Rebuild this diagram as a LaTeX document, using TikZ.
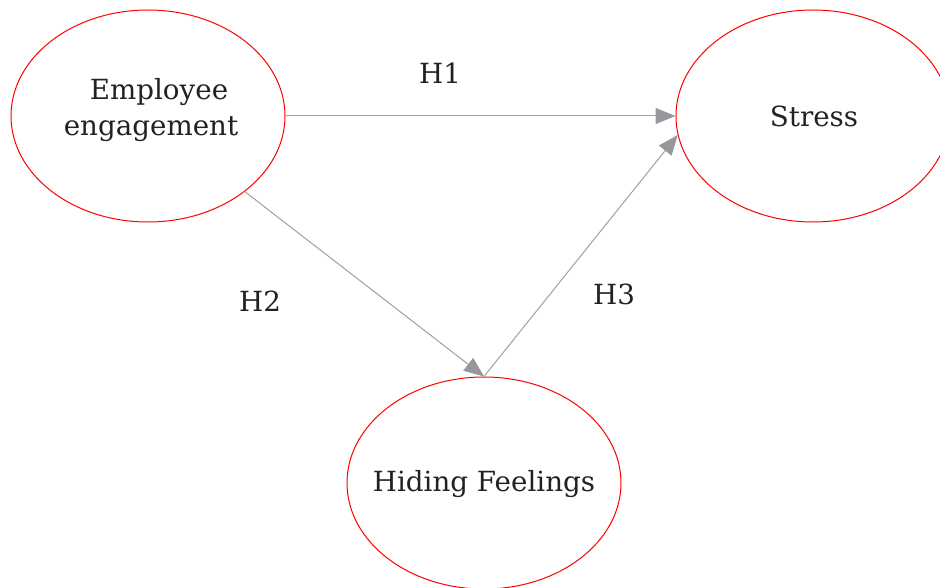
\documentclass[tikz,border=0pt]{standalone}
\usepackage{fontspec}
\setmainfont{DejaVu Serif}
\usetikzlibrary{arrows.meta}
\usetikzlibrary{shapes.geometric}
\definecolor{textgray}{RGB}{34,34,34}
\definecolor{edgegray}{RGB}{160,160,160}
\definecolor{headgray}{RGB}{150,151,155}
\tikzset{
  construct/.style={ellipse, draw=red, line width=0.75pt, minimum width=205.5pt,
    minimum height=159pt, inner sep=0pt},
  ctext/.style={align=center, text=textgray, inner sep=0pt,
    font=\fontsize{20.8}{27}\selectfont},
  hpath/.style={draw=edgegray, line width=0.75pt,
    -{Triangle[length=15pt,width=12pt,color=headgray,fill=headgray]}},
  hyp/.style={text=textgray, font=\fontsize{20.8}{27}\selectfont}
}

\begin{document}
\begin{tikzpicture}[x=0.75pt,y=-0.75pt]
\useasboundingbox (0,0) rectangle (940,588);
% draws constructs
\node[construct] (ee) at (148,116) {};
\node[construct] (st) at (813,116) {};
\node[construct] (hf) at (484,483) {};
% labels constructs
\node[ctext] (eetxt) at (151,110) {\hspace*{12pt}Employee\\engagement};
\node[ctext] (sttxt) at (814,116) {Stress};
\node[ctext] (hftxt) at (484,484) {Hiding Feelings};
% labels hypotheses
\node[hyp] (h1) at (440,73) {H1};
\node[hyp] (h2) at (260,301) {H2};
\node[hyp] (h3) at (614,294) {H3};
% draws paths
\draw[hpath] (ee) -- (st);
\draw[hpath] (ee.-38) -- (hf.north);
\draw[hpath] (hf.north) -- (st.188);
\end{tikzpicture}
\end{document}
